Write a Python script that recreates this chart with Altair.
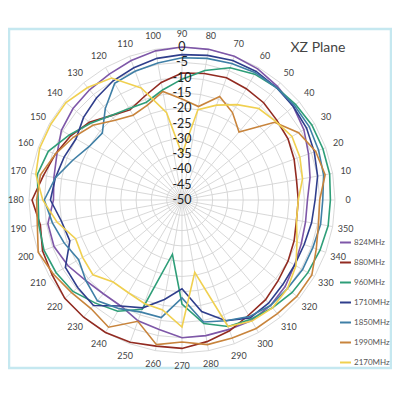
import altair as alt
import pandas as pd

# ---- data ----
angles = list(range(0, 360, 10))
series_names = ["824MHz", "880MHz", "960MHz", "1710MHz", "1850MHz", "1990MHz", "2170MHz"]
series_colors = ["#7E57A8", "#922B21", "#2E9E78", "#2F3E8C", "#3F7FA6", "#C8843C", "#F0D050"]

s824 = [-9, -7.5, -6, -4, -2.5, -1.5, -0.5, 0, 0, 0,
        -0.5, -1.5, -2.5, -3, -3.5, -4.5, -6.5, -7.5, -8, -5.5,
        -5.5, -7, -9, -10, -10, -8, -7, -5, -5, -5,
        -4.5, -5, -6, -7.5, -8.5, -9]
s880 = [-12, -12, -11, -10, -9.5, -8.5, -8, -7.5, -8, -8.5,
        -11, -14, -16, -14, -10.5, -8, -6, -4, -1, -3,
        -1.5, -1, 0, 0, 0, -0.5, -1.5, -1.5, -3, -4.5,
        -6.5, -7.5, -9, -10, -11, -12]
s960 = [-1.5, -1, -1, -1, -1.5, -2, -2.5, -4, -7, -10.5,
        -13.5, -16, -15.5, -14, -11, -7.5, -3.5, -2, -3, -2.5,
        -2, -2.5, -3.5, -6, -8, -12, -32, -16, -9, -6,
        -5, -4, -3, -2.5, -2, -1.5]
s1710 = [-6.5, -5, -4, -3, -2.5, -2, -1.5, -1.5, -2, -2.5,
         -3, -4, -5, -6.5, -8, -10, -9, -8, -7, -10,
         -11, -6, -5.5, -5, -10, -12.5, -17, -21, -13, -8,
         -5.5, -6, -7, -7.5, -7.5, -7]
s1850 = [-4, -3, -2.5, -2, -2, -2, -2, -2.5, -3, -3.5,
         -4.5, -5.2, -6, -11, -16, -15, -12, -8, -5, -7,
         -9, -11, -9, -7, -9, -11, -11, -18, -9.5, -8,
         -6, -5, -5, -4.5, -4.5, -4]
s1990 = [-5, -2.5, -3.5, -6, -10.5, -21, -17, -14, -19, -17,
         -14, -17, -18, -16, -12, -9, -6, -3, -2.5, -2,
         0, -1.5, -2.9, -3.7, -2, -7.8, -2, -3.6, -2, -2,
         -1.5, -1.5, -1, -1, -3.3, -4.7]
s2170 = [-12, -10, -9, -8.5, -10, -11, -14, -17, -20, -35,
         -21, -11, -4, -2, -0.5, -0.5, -0.5, -1.5, -4.5, -8.5,
         -13, -12.5, -12, -15, -15, -14, -13.5, -8.5, -26, -6,
         -4.3, -4, -5, -7, -10, -12]
series_values = [s824, s880, s960, s1710, s1850, s1990, s2170]

ring_levels = [-45, -40, -35, -30, -25, -20, -15, -10, -5, 0]
radial_labels = [0, -5, -10, -15, -20, -25, -30, -35, -40, -45, -50]
angle_labels = list(range(0, 360, 10))
title_text = "XZ  Plane"

# ---- tables ----
rows = []
for name, vals in zip(series_names, series_values):
    for i, (a, v) in enumerate(zip(angles + [360], vals + [vals[0]])):
        rows.append({"series": name, "angle": a, "db": v, "order": i})
df = pd.DataFrame(rows)

grid_rows = []
for lv in ring_levels:
    for i, a in enumerate(angles + [360]):
        grid_rows.append({"level": lv, "angle": a, "db": lv, "order": i})
grid_df = pd.DataFrame(grid_rows)
spoke_df = pd.DataFrame({"angle": angles, "db": [0] * len(angles)})
rlab_df = pd.DataFrame({"db": radial_labels, "txt": [str(v) for v in radial_labels]})
alab_df = pd.DataFrame({"angle": angle_labels, "txt": [str(a) for a in angle_labels]})

FONT = "Lato"
xs = alt.Scale(domain=[-56.86, 68.63], nice=False, zero=False)
ys = alt.Scale(domain=[-62.75, 62.75], nice=False, zero=False)

def polar(chart, rshift=0.0):
    return chart.transform_calculate(
        r=f"datum.db + 50 + {rshift}"
    ).transform_calculate(
        px="datum.r * cos(datum.angle * PI / 180)",
        py="datum.r * sin(datum.angle * PI / 180)",
    )

frame = alt.Chart(pd.DataFrame({"a": [0]})).mark_rect(
    fill="white", stroke="#C5E8F0", strokeWidth=2.5
).encode(x=alt.value(1), x2=alt.value(383), y=alt.value(21), y2=alt.value(360))

rings = polar(alt.Chart(grid_df)).mark_line(color="#D4D4D4", strokeWidth=0.9).encode(
    x=alt.X("px:Q", scale=xs, axis=None),
    y=alt.Y("py:Q", scale=ys, axis=None),
    detail="level:N",
    order="order:Q",
)

spokes = polar(alt.Chart(spoke_df)).transform_calculate(x0="0", y0="0").mark_rule(
    color="#D4D4D4", strokeWidth=0.9
).encode(
    x=alt.X("x0:Q", scale=xs, axis=None),
    y=alt.Y("y0:Q", scale=ys, axis=None),
    x2="px:Q",
    y2="py:Q",
)

lines = polar(alt.Chart(df)).mark_line(strokeWidth=1.6).encode(
    x=alt.X("px:Q", scale=xs, axis=None),
    y=alt.Y("py:Q", scale=ys, axis=None),
    color=alt.Color(
        "series:N",
        scale=alt.Scale(domain=series_names, range=series_colors),
        legend=alt.Legend(
            title=None, orient="none", legendX=331, legendY=228,
            symbolType="stroke", symbolStrokeWidth=2, symbolSize=120,
            labelFont=FONT, labelFontSize=8, labelColor="#555555",
            rowPadding=9, labelOffset=2,
        ),
    ),
    order="order:Q",
)

rlabels = alt.Chart(rlab_df).transform_calculate(
    px="0", py="datum.db + 50"
).mark_text(font=FONT, fontSize=12.5, color="#222222", align="center", baseline="middle").encode(
    x=alt.X("px:Q", scale=xs, axis=None),
    y=alt.Y("py:Q", scale=ys, axis=None),
    text="txt:N",
)

alabels = polar(alt.Chart(alab_df).transform_calculate(db="0"), rshift=4.3).mark_text(
    font=FONT, fontSize=9, color="#444444", align="center", baseline="middle"
).encode(
    x=alt.X("px:Q", scale=xs, axis=None),
    y=alt.Y("py:Q", scale=ys, axis=None),
    text="txt:N",
)

title = alt.Chart(pd.DataFrame({"t": [title_text]})).mark_text(
    font=FONT, fontSize=14, color="#444444", align="center", baseline="middle"
).encode(x=alt.value(310), y=alt.value(40), text="t:N")

chart = alt.layer(frame, rings, spokes, lines, rlabels, alabels, title).properties(
    width=384, height=384, padding=0,
    autosize=alt.AutoSizeParams(type="none"),
).configure_view(stroke=None)

chart.save("out.html", embed_options={"renderer": "svg", "actions": False})
